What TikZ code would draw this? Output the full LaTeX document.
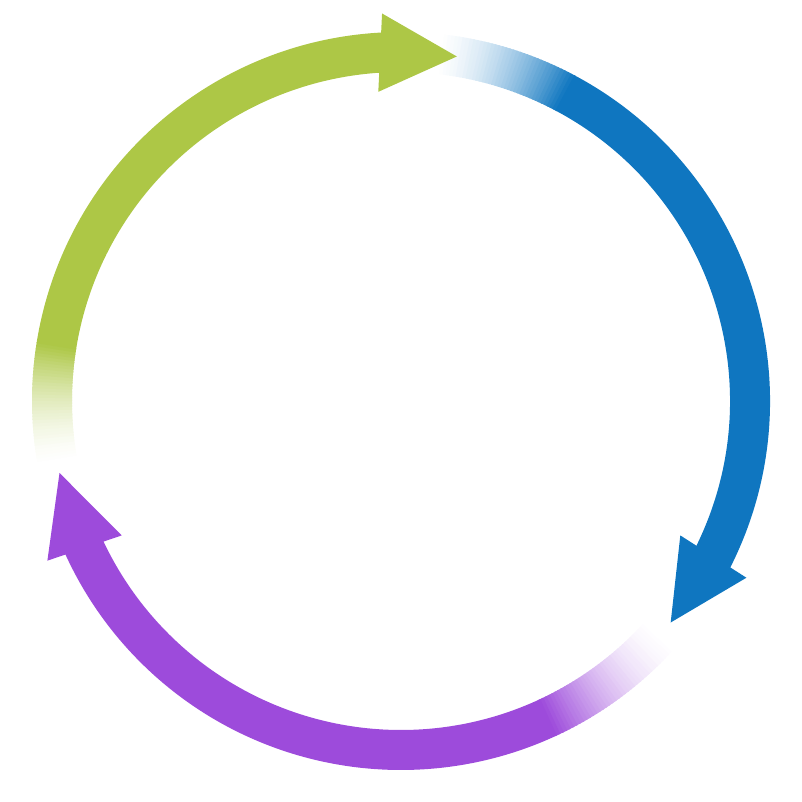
\documentclass[tikz,border=0pt]{standalone}
\usepackage{tikz}
\usetikzlibrary{calc}

\definecolor{ringgreen}{RGB}{173,199,70}
\definecolor{ringblue}{RGB}{15,118,192}
\definecolor{ringpurple}{RGB}{157,75,219}

\tikzset{
	band/.style={line width=40pt, line cap=butt},
}

\begin{document}
\begin{tikzpicture}[x=1pt,y=1pt]
	\useasboundingbox (0,0) rectangle (802,802);
	\coordinate (c) at (401,401);
	
	% faded tails
	\foreach \ta/\tb/\col in {191/171/ringgreen, 85/62/ringblue, -41/-65/ringpurple}
	\foreach \i in {0,...,39} {
		\pgfmathsetmacro\sa{\ta+(\tb-\ta)*\i/40}
		\pgfmathsetmacro\sb{\ta+(\tb-\ta)*(\i+1.5)/40}
		\pgfmathtruncatemacro\p{100*((\i+0.5)/40)^1.7}
		\draw[band, draw=\col!\p!white] ($(c)+(\sa:349)$) arc[start angle=\sa, end angle=\sb, radius=349];
	}
	
	% solid shafts and heads
	\foreach \ts/\hb/\tip/\col in {171/93.5/80.8/ringgreen, 62/-26.4/-39.4/ringblue, -65/-155/-168.1/ringpurple} {
		\pgfmathsetmacro\hs{\hb-1}
		\pgfmathsetmacro\ho{\hb-0.7}
		\pgfmathsetmacro\hi{\hb+0.7}
		\draw[band, draw=\col] ($(c)+(\ts:349)$) arc[start angle=\ts, end angle=\hs, radius=349];
		\fill[\col] ($(c)+(\ho:388)$) -- ($(c)+(\tip:349)$) -- ($(c)+(\hi:310)$) -- cycle;
	}
\end{tikzpicture}
\end{document}
